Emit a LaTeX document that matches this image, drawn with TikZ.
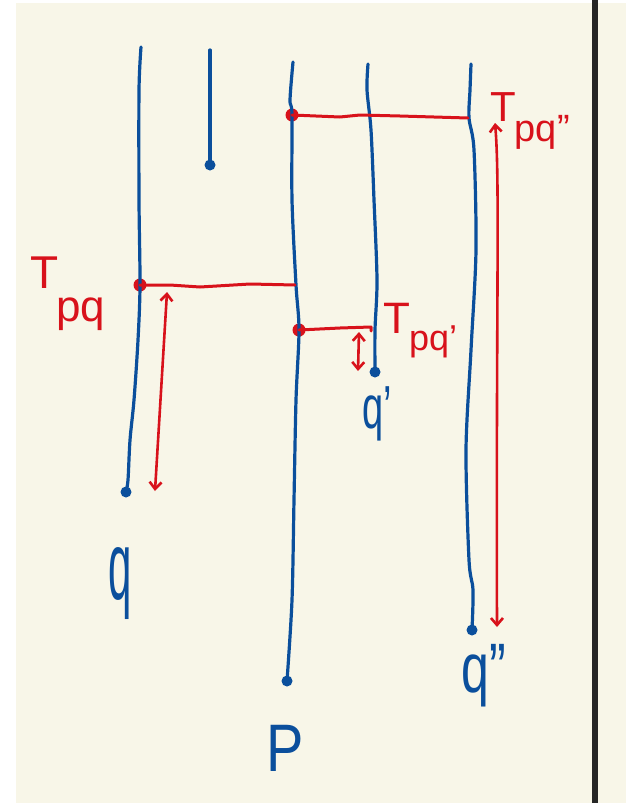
\documentclass[tikz,border=0pt]{standalone}
\usepackage{fontspec}
\setmainfont{Liberation Sans}
\usetikzlibrary{arrows.meta}
\definecolor{paper}{HTML}{F8F6E8}
\definecolor{ink}{HTML}{0B4F9C}
\definecolor{redink}{HTML}{D8121B}
\tikzset{
  wire/.style={draw=ink, line width=3.2pt, line cap=round, line join=round},
  bdot/.style={circle, fill=ink, inner sep=0pt, minimum size=11pt},
  rdot/.style={circle, fill=redink, inner sep=0pt, minimum size=13pt},
  link/.style={draw=redink, line width=3pt, line cap=round, line join=round},
  spanarrow/.style={draw=redink, line width=2.6pt, line cap=round,
    {Straight Barb[length=7pt,width=12pt,line width=2.6pt]}-{Straight Barb[length=7pt,width=12pt,line width=2.6pt]}},
  blbl/.style={text=ink, inner sep=0pt},
  rlbl/.style={text=redink, inner sep=0pt}
}
\begin{document}
\begin{tikzpicture}[x=1pt,y=-1pt]
\useasboundingbox (0,0) rectangle (626,803);
\fill[white] (0,0) rectangle (626,803);
\fill[paper] (16,3) rectangle (626,803);
\fill[black!85] (592,0) rectangle (598,803);

% ends of the blue world lines
\coordinate (qtop) at (141,47);
\coordinate (btop) at (210,50);
\coordinate (ptop) at (293,62);
\coordinate (q1top) at (368,64);
\coordinate (q2top) at (471,64);
\node[bdot] (qend) at (126,492) {};
\node[bdot] (bend) at (210,165) {};
\node[bdot] (pend) at (287,681) {};
\node[bdot] (q1end) at (375,372) {};
\node[bdot] (q2end) at (472,630) {};

% red event dots
\node[rdot] (e1) at (292,115) {};
\node[rdot] (e2) at (140,285) {};
\node[rdot] (e3) at (299,330) {};

% blue lines
\draw[wire] plot[smooth, tension=0.5] coordinates {(qtop) (139,90) (139,200) (140,285) (138,340) (134,400) (130,440) (128,480) (qend.center)};
\draw[wire] (btop) -- (210,80) -- (bend.center);
\draw[wire] plot[smooth, tension=0.5] coordinates {(ptop) (290,100) (e1.center) (292,200) (296,285) (e3.center) (296,400) (294,500) (292,600) (pend.center)};
\draw[wire] plot[smooth, tension=0.5] coordinates {(q1top) (367,90) (371,130) (374,200) (377,280) (375,330) (q1end.center)};
\draw[wire] plot[smooth, tension=0.5] coordinates {(q2top) (470,90) (469,118) (474,150) (476,250) (471,350) (466,450) (469,560) (473,590) (q2end.center)};

% red horizontal links
\coordinate (l1) at (468,118);
\coordinate (l2) at (295,285);
\coordinate (l3) at (371,327);
\draw[link] (e1.center) -- (340,117) -- (360,115) -- (400,116) -- (l1);
\draw[link] (e2.center) -- (170,285) -- (200,287) -- (250,284) -- (l2);
\draw[link] (e3.center) -- (340,328) -- (l3) -- (371,331);

% red duration arrows
\coordinate (a1t) at (495,123);
\coordinate (a1b) at (497,627);
\coordinate (a2t) at (167,292);
\coordinate (a2b) at (155,491);
\coordinate (a3t) at (359,332);
\coordinate (a3b) at (358,371);
\draw[spanarrow] (a1t) .. controls (500,180) and (496,300) .. (a1b);
\draw[spanarrow] (a2t) -- (a2b);
\draw[spanarrow] (a3t) -- (a3b);

% red labels
\node[rlbl, anchor=north west] (Tpq) at (30,257)
  {\fontsize{46}{46}\selectfont T\kern-2pt\raisebox{-33pt}{\fontsize{44}{44}\selectfont pq}};
\node[rlbl, anchor=north west] (Tpq1) at (383,303)
  {\fontsize{44}{44}\selectfont T\kern-1pt\raisebox{-17pt}{\fontsize{36}{36}\selectfont pq'}};
\node[rlbl, anchor=north west] (Tpq2) at (490,92)
  {\fontsize{42}{42}\selectfont T\kern-1pt\raisebox{-20pt}{\fontsize{38}{38}\selectfont pq''}};

% blue labels
\node[blbl] (lq) at (120,584) {\scalebox{1}[2.3]{\fontsize{42}{42}\selectfont q}};
\node[blbl] (lp) at (285,748) {\scalebox{1}[1.2]{\fontsize{56}{56}\selectfont P}};
\node[blbl] (lq1) at (377,414) {\scalebox{1}[1.6]{\fontsize{38}{38}\selectfont q'}};
\node[blbl] (lq2) at (484,676) {\scalebox{1}[1.4]{\fontsize{50}{50}\selectfont q''}};
\end{tikzpicture}
\end{document}
